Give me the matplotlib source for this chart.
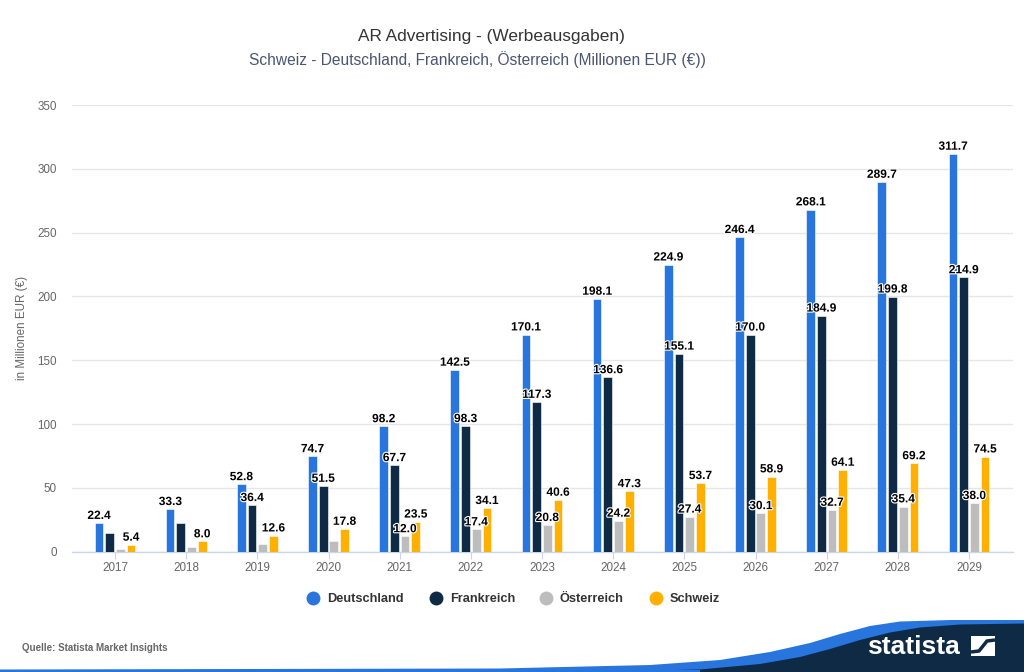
import matplotlib
matplotlib.use("Agg")
import matplotlib.pyplot as plt
import matplotlib.patheffects as pe
from matplotlib.patches import Polygon, Rectangle
import numpy as np

plt.rcParams['font.family'] = ['Liberation Sans', 'DejaVu Sans']

years = ["2017", "2018", "2019", "2020", "2021", "2022", "2023", "2024",
         "2025", "2026", "2027", "2028", "2029"]
series_names = ["Deutschland", "Frankreich", "Österreich", "Schweiz"]
deutschland = [22.4, 33.3, 52.8, 74.7, 98.2, 142.5, 170.1, 198.1, 224.9, 246.4, 268.1, 289.7, 311.7]
frankreich = [14.9, 22.2, 36.4, 51.5, 67.7, 98.3, 117.3, 136.6, 155.1, 170.0, 184.9, 199.8, 214.9]
oesterreich = [1.8, 3.4, 6.0, 8.4, 12.0, 17.4, 20.8, 24.2, 27.4, 30.1, 32.7, 35.4, 38.0]
schweiz = [5.4, 8.0, 12.6, 17.8, 23.5, 34.1, 40.6, 47.3, 53.7, 58.9, 64.1, 69.2, 74.5]
# labels hidden by the chart's overlap handling: (series index, year index)
hidden_labels = {(1, 0), (1, 1), (2, 0), (2, 1), (2, 2), (2, 3)}

title = "AR Advertising - (Werbeausgaben)"
subtitle = "Schweiz - Deutschland, Frankreich, Österreich (Millionen EUR (€))"
y_label = "in Millionen EUR (€)"
source = "Quelle: Statista Market Insights"

colors = ["#2876dd", "#0f2a44", "#bdbdbd", "#ffb000"]
all_series = [deutschland, frankreich, oesterreich, schweiz]

W, H = 1024, 672
fig = plt.figure(figsize=(W / 100, H / 100), dpi=100)

ax_l, ax_r, ax_t, ax_b = 72, 1013, 105, 551.7
ax = fig.add_axes([ax_l / W, 1 - ax_b / H, (ax_r - ax_l) / W, (ax_b - ax_t) / H])

x = np.arange(len(years))
step = 0.15
width = 0.122
for i, (name, vals) in enumerate(zip(series_names, all_series)):
    pos = x + (i - 1.5) * step
    ax.bar(pos, vals, width=width, color=colors[i], edgecolor="white",
           linewidth=0.4, zorder=3)
    for j, (p, v) in enumerate(zip(pos, vals)):
        if (i, j) in hidden_labels:
            continue
        ax.annotate(f"{v:.1f}", (p, v), xytext=(0, 3), textcoords="offset points",
                    ha="center", va="baseline", fontsize=8.6, fontweight="bold",
                    color="#000000", zorder=5,
                    path_effects=[pe.withStroke(linewidth=1.6, foreground="white")])

# xlim so category 0 sits at pixel 115 and 12 at 969
px_per_cat = (969 - 115) / 12
ax.set_xlim(-(115 - ax_l) / px_per_cat, 12 + (ax_r - 969) / px_per_cat)
ax.set_ylim(0, 350)
ax.set_yticks(np.arange(0, 351, 50))
ax.set_xticks(x)
ax.set_xticklabels(years)
ax.grid(axis="y", color="#e6e6e6", linewidth=1, zorder=0)
ax.set_axisbelow(True)
for s in ["top", "right", "left"]:
    ax.spines[s].set_visible(False)
ax.spines["bottom"].set_color("#ccd6eb")
ax.spines["bottom"].set_linewidth(1)
ax.tick_params(axis="y", length=0, pad=11, labelsize=8.4, labelcolor="#666666")
ax.tick_params(axis="x", length=5, color="#ccd6eb", pad=2.5, labelsize=8.4,
               labelcolor="#666666")
ax.set_ylabel(y_label, fontsize=8.4, color="#666666")
ax.yaxis.set_label_coords(-(72 - 28) / (ax_r - ax_l), 0.5)

fig.text(491 / W, 1 - 37 / H, title, ha="center", va="center", fontsize=12.4,
         color="#333333")
fig.text(477 / W, 1 - 60 / H, subtitle, ha="center", va="center", fontsize=11.2,
         color="#4b5573")

# legend
leg_x = [313, 436, 546, 656]
for i, name in enumerate(series_names):
    fig.lines.append(plt.Line2D([leg_x[i] / W], [1 - 598 / H], marker="o",
                                markersize=9, color=colors[i], linestyle="None",
                                transform=fig.transFigure))
    fig.text((leg_x[i] + 14) / W, 1 - 598.5 / H, name, ha="left", va="center",
             fontsize=9.2, fontweight="bold", color="#333333")

fig.text(22 / W, 1 - 648 / H, source, ha="left", va="center", fontsize=7,
         fontweight="bold", color="#666666")

# footer decoration (statista logo band)
ov = fig.add_axes([0, 0, 1, 1], zorder=-1)
ov.set_xlim(0, W)
ov.set_ylim(H, 0)
ov.axis("off")
bx = [0, 500, 650, 720, 770, 810, 840, 870, 900, 950, 1024]
by = [669.5, 668.5, 665, 660, 652, 643, 634, 626, 621.5, 620, 620]
ov.add_patch(Polygon(list(zip(bx, by)) + [(W, H), (0, H)], closed=True,
                     facecolor="#2876dd", edgecolor="none"))
nx = [0, 600, 700, 760, 800, 830, 860, 890, 920, 960, 1024]
ny = [672.5, 671.5, 669.5, 664, 657, 649, 640, 632.5, 627.5, 624.5, 623.5]
ov.add_patch(Polygon(list(zip(nx, ny)) + [(W, H), (0, H)], closed=True,
                     facecolor="#0f2a44", edgecolor="none"))
ov.add_patch(Rectangle((0, 669.5), 700, 3, facecolor="#2876dd", edgecolor="none"))
ov.text(913, 647, "statista", ha="center", va="center", fontsize=19,
        fontweight="bold", color="white")
ov.add_patch(Rectangle((971, 636), 24, 20, facecolor="white", edgecolor="none"))
ov.plot([971, 979, 987, 995], [652, 651, 641, 640], color="#0f2a44", linewidth=2.5,
        solid_capstyle="butt")

fig.savefig("out.png", dpi=100, facecolor="white")
